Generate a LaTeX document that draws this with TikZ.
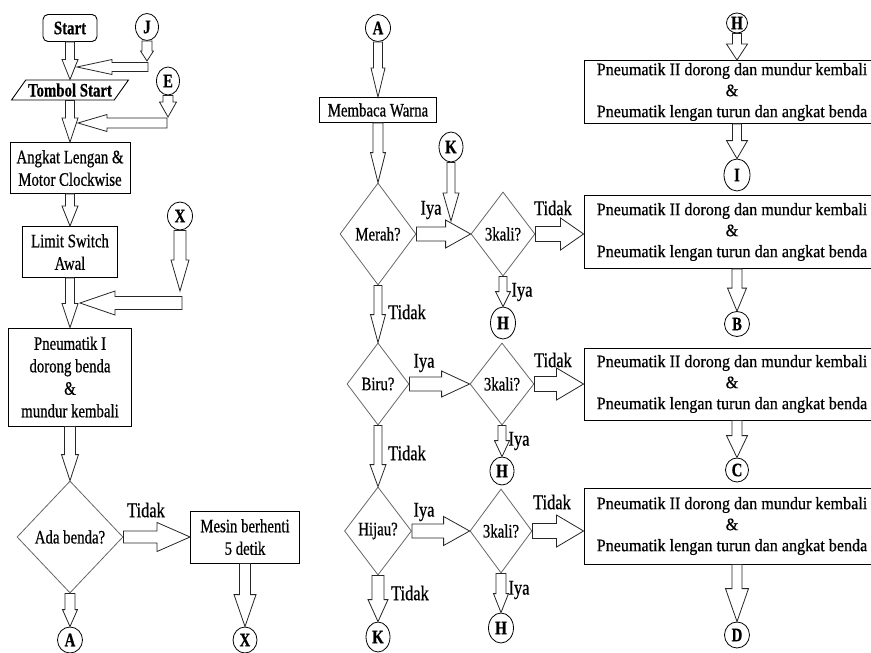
\documentclass[tikz,border=0pt]{standalone}
\usepackage{fontspec}
\setmainfont{Liberation Serif}[FakeStretch=0.78, FakeBold=0.6]
\newfontfamily\boxfont{Liberation Serif}[FakeStretch=0.92, FakeBold=0.6]
\usetikzlibrary{shapes.geometric,calc}

\tikzset{barrow/.style n args={3}{draw=black!85, fill=white, line width=0.8pt,
  to path={let \p1=($(\tikztotarget)!#3!(\tikztostart)$) in
    ($(\tikztostart)!#1!90:(\tikztotarget)$) -- ($(\p1)!#1!90:(\tikztotarget)$)
    -- ($(\p1)!#2!90:(\tikztotarget)$) -- (\tikztotarget)
    -- ($(\p1)!#2!-90:(\tikztotarget)$) -- ($(\p1)!#1!-90:(\tikztotarget)$)
    -- ($(\tikztostart)!#1!-90:(\tikztotarget)$) -- cycle}}}

\begin{document}
\begin{tikzpicture}[x=1pt,y=-1pt,font=\fontsize{19}{22.5}\selectfont]
\tikzstyle{proc} = [draw, line width=0.9pt, align=center, inner sep=1pt]
\tikzstyle{term} = [proc, rounded corners=5pt, minimum width=54pt, minimum height=27pt]
\tikzstyle{io} = [draw, line width=0.9pt, trapezium, trapezium left angle=48, trapezium right angle=132, trapezium stretches=true, minimum width=117pt, minimum height=20pt, inner sep=1pt]
\tikzstyle{dec} = [draw=black!60, line width=0.8pt, diamond, inner sep=0pt, align=center]
\tikzstyle{conn} = [draw, line width=0.8pt, ellipse, inner sep=0pt, minimum width=24pt, minimum height=28pt, font=\fontsize{19}{22}\selectfont\bfseries]
\tikzstyle{act} = [proc, font=\boxfont\fontsize{17.5}{21}\selectfont, minimum width=296pt]
\tikzstyle{lbl} = [font=\fontsize{21}{24}\selectfont, inner sep=0pt]

\useasboundingbox (0,0) rectangle (871,653);
\clip (0,0) rectangle (871,653);

% left column
\node(start)[term] at (70,28) {\textbf{Start}};
\node(tombol)[io, below of=start, node distance=62pt]{\textbf{Tombol Start}};
\node(angkat)[proc, below of=tombol, node distance=78pt, minimum width=120pt, minimum height=51pt]{Angkat Lengan \&\\Motor Clockwise};
\node(limit)[proc, below of=angkat, node distance=84pt, minimum width=95pt, minimum height=51pt]{Limit Switch\\Awal};
\node(pneu)[proc, below of=limit, node distance=125pt, minimum width=123pt, minimum height=98pt]{Pneumatik I\\dorong benda\\\&\\mundur kembali};
\node(ada)[dec, below of=pneu, node distance=160pt, minimum width=106pt, minimum height=112pt]{Ada benda?};
\node(adaa)[conn, below of=ada, node distance=103pt, minimum width=25pt, minimum height=26pt]{A};
\node(mesin)[proc, right of=ada, node distance=175pt, minimum width=109pt, minimum height=52pt]{Mesin berhenti\\5 detik};
\node(xbot)[conn, below of=mesin, node distance=103pt, minimum height=26pt]{X};
\node(j)[conn, minimum width=23pt, minimum height=27pt] at (147,27) {J};
\node(e)[conn, minimum width=23pt] at (168,81) {E};
\node(xtop)[conn, minimum width=25pt] at (180,216) {X};
\node(tidak0)[lbl] at (146,510) {Tidak};

\coordinate (jtip) at (147,61);
\coordinate (jend) at (148,67);
\coordinate (jin) at (77,67);
\coordinate (etip) at (168,117);
\coordinate (eend) at (167,123);
\coordinate (ein) at (78,123);
\coordinate (xtip) at (180,291);
\coordinate (xend) at (182,303);
\coordinate (xin) at (80,303);

\draw[barrow={4.5pt}{8pt}{20pt}] (start.south) to (start.south |- tombol.north);
\draw[barrow={5pt}{6.5pt}{10pt}] (j.south) to (jtip);
\draw[barrow={4.5pt}{7.5pt}{35pt}] (jend) to (jin);
\draw[barrow={4.5pt}{8pt}{24pt}] (start.south |- tombol.south) to (angkat.north);
\draw[barrow={5pt}{8.5pt}{15pt}] (e.south) to (etip);
\draw[barrow={5pt}{8.5pt}{29pt}] (eend) to (ein);
\draw[barrow={4.5pt}{8pt}{20pt}] (angkat.south) to (limit.north);
\draw[barrow={6pt}{9pt}{31pt}] (xtop.south) to (xtip);
\draw[barrow={6.5pt}{12pt}{35pt}] (xend) to (xin);
\draw[barrow={4.5pt}{8pt}{24pt}] (limit.south) to (pneu.north);
\draw[barrow={5.5pt}{8.5pt}{26pt}] (pneu.south) to (ada.north);
\draw[barrow={5pt}{7.5pt}{17pt}] (ada.south) to (adaa.north);
\draw[barrow={6pt}{14.5pt}{33pt}] (ada.east) to (ada.east -| mesin.west);
\draw[barrow={5.5pt}{11pt}{32pt}] (mesin.south) to (xbot.north);

% middle column
\node(amid)[conn, minimum width=25pt, minimum height=27pt] at (378,28) {A};
\node(membaca)[proc, below of=amid, node distance=82pt, minimum width=117pt, minimum height=25pt]{Membaca Warna};
\node(merah)[dec, below of=membaca, node distance=124pt, minimum width=76pt, minimum height=102pt]{Merah?};
\node(kali1)[dec, right of=merah, node distance=125pt, minimum width=64pt, minimum height=84pt]{3kali?};
\node(h1)[conn, below of=kali1, node distance=89pt, minimum width=25pt, minimum height=32pt]{H};
\node(biru)[dec, below of=merah, node distance=150pt, minimum width=62pt, minimum height=82pt]{Biru?};
\node(kali2)[dec, right of=biru, node distance=124pt, minimum width=64pt, minimum height=82pt]{3kali?};
\node(h2)[conn, below of=kali2, node distance=87pt]{H};
\node(hijau)[dec, below of=biru, node distance=147pt, minimum width=67pt, minimum height=88pt]{Hijau?};
\node(kali3)[dec, right of=hijau, node distance=123pt, minimum width=62pt, minimum height=84pt]{3kali?};
\node(kbot)[conn, below of=hijau, node distance=106pt, minimum height=30pt]{K};
\node(h3)[conn, below of=kali3, node distance=97pt, minimum width=25pt, minimum height=30pt]{H};
\node(k)[conn, minimum height=30pt] at (451,147) {K};
\coordinate (ktip) at (451,221);

\node(iya1)[lbl] at (431,210) {Iya};
\node(tidak1)[lbl] at (553,208) {Tidak};
\node(iya2)[lbl] at (522,292) {Iya};
\node(tidak2)[lbl] at (407,312) {Tidak};
\node(iya3)[lbl] at (424,363) {Iya};
\node(tidak3)[lbl] at (553,360) {Tidak};
\node(iya4)[lbl] at (519,441) {Iya};
\node(tidak4)[lbl] at (407,453) {Tidak};
\node(iya5)[lbl] at (424,512) {Iya};
\node(tidak5)[lbl] at (552,502) {Tidak};
\node(tidak6)[lbl] at (410,593) {Tidak};
\node(iya6)[lbl] at (519,590) {Iya};

% right column
\node(htop)[conn, minimum width=21pt, minimum height=20pt] at (737,23) {H};
\node(box1)[act, below of=htop, node distance=69pt, xshift=-5pt, minimum height=63pt]{Pneumatik II dorong dan mundur kembali\\\&\\Pneumatik lengan turun dan angkat benda};
\node(i)[conn, below of=box1, node distance=83pt, xshift=5pt, minimum width=26pt, minimum height=32pt]{I};
\node(box2)[act, below of=i, node distance=57pt, xshift=-5pt, minimum height=73pt]{Pneumatik II dorong dan mundur kembali\\\&\\Pneumatik lengan turun dan angkat benda};
\node(b)[conn, below of=box2, node distance=92pt, xshift=5pt, minimum width=25pt, minimum height=25pt]{B};
\node(box3)[act, below of=b, node distance=60pt, xshift=-5pt, minimum height=72pt]{Pneumatik II dorong dan mundur kembali\\\&\\Pneumatik lengan turun dan angkat benda};
\node(c)[conn, below of=box3, node distance=86pt, xshift=5pt, minimum width=23pt, minimum height=24pt]{C};
\node(box4)[act, below of=c, node distance=56pt, xshift=-5pt, minimum height=76pt]{Pneumatik II dorong dan mundur kembali\\\&\\Pneumatik lengan turun dan angkat benda};
\node(d)[conn, below of=box4, node distance=109pt, xshift=5pt, minimum width=25pt, minimum height=26pt]{D};

\draw[barrow={4.5pt}{7pt}{29pt}] (amid.south) to (membaca.north);
\draw[barrow={5pt}{7.5pt}{30pt}] (membaca.south) to (merah.north);
\draw[barrow={7pt}{14pt}{25pt}] (merah.east) to (kali1.west);
\draw[barrow={4pt}{8pt}{28pt}] (k.south) to (ktip);
\draw[barrow={7.5pt}{16pt}{23pt}] (kali1.east) to (kali1.east -| box2.west);
\draw[barrow={4pt}{7.5pt}{15pt}] (kali1.south) to (h1.north);
\draw[barrow={4pt}{7.5pt}{28pt}] (merah.south) to (biru.north);
\draw[barrow={7pt}{13pt}{28pt}] (biru.east) to (kali2.west);
\draw[barrow={7.5pt}{16pt}{27pt}] (kali2.east) to (kali2.east -| box3.west);
\draw[barrow={4pt}{7.5pt}{16pt}] (kali2.south) to (h2.north);
\draw[barrow={4pt}{8pt}{22pt}] (biru.south) to (hijau.north);
\draw[barrow={7pt}{14.5pt}{26pt}] (hijau.east) to (kali3.west);
\draw[barrow={7.5pt}{16pt}{27pt}] (kali3.east) to (kali3.east -| box4.west);
\draw[barrow={6pt}{10pt}{22pt}] (hijau.south) to (kbot.north);
\draw[barrow={5pt}{7.5pt}{19pt}] (kali3.south) to (h3.north);

\draw[barrow={4.5pt}{10.5pt}{16pt}] (htop.south) to (htop.south |- box1.north);
\draw[barrow={4.5pt}{10.5pt}{18pt}] (i.north |- box1.south) to (i.north);
\draw[barrow={5pt}{9.5pt}{23pt}] (b.north |- box2.south) to (b.north);
\draw[barrow={5pt}{10.5pt}{22pt}] (c.north |- box3.south) to (c.north);
\draw[barrow={5pt}{11.5pt}{33pt}] (d.north |- box4.south) to (d.north);
\end{tikzpicture}
\end{document}
